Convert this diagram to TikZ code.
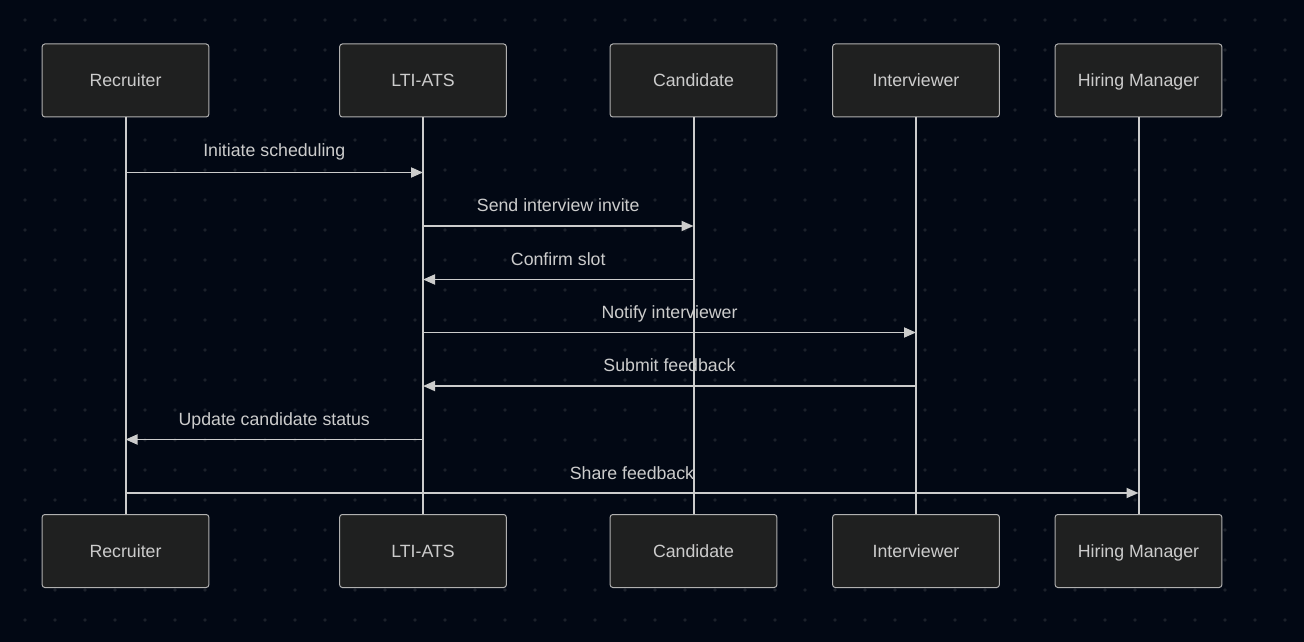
\documentclass[tikz,border=0pt]{standalone}
\usepackage{fontspec}
\setmainfont{Liberation Sans}
\usetikzlibrary{arrows.meta}
\definecolor{bgcol}{HTML}{020814}
\definecolor{dotcol}{HTML}{1C212B}
\definecolor{boxfill}{HTML}{1F2020}
\definecolor{boxline}{HTML}{B0B0B0}
\definecolor{linecol}{HTML}{CCCCCC}
\definecolor{txtcol}{HTML}{CCCCCC}
\begin{document}
\begin{tikzpicture}[x=0.75pt, y=-0.75pt]
        \tikzstyle{actor}=[rectangle, rounded corners=2pt, fill=boxfill, draw=boxline, line width=0.75pt, minimum width=125pt, minimum height=54.75pt, font=\fontsize{13.3}{15}\selectfont, text=txtcol, text height=9.5pt, text depth=0pt]
        \tikzstyle{life}=[linecol, line width=1.5pt]
        \tikzstyle{msg}=[linecol, line width=1.35pt, -{Triangle[length=9pt, width=7.5pt]}]
        \tikzstyle{lbl}=[font=\fontsize{13.3}{15}\selectfont, text=txtcol, inner sep=0pt, anchor=base]

        % background and dot grid
        \fill[bgcol] (0,0) rectangle (1304,642);
        \useasboundingbox (0,0) rectangle (1304,642);
        \foreach \i in {0,...,43}
          \foreach \j in {0,...,20}
            \fill[dotcol] (25+30*\i, 20+30*\j) circle (1.4pt);

        % participants
        \node[actor] (rec)  at (125.5,80.5)  {Recruiter};
        \node[actor] (ats)  at (423,80.5)    {LTI-ATS};
        \node[actor] (cand) at (693.5,80.5)  {Candidate};
        \node[actor] (intv) at (916,80.5)    {Interviewer};
        \node[actor] (hm)   at (1138.5,80.5) {Hiring Manager};

        \node[actor] (rec')  at (125.5,551)  {Recruiter};
        \node[actor] (ats')  at (423,551)    {LTI-ATS};
        \node[actor] (cand') at (693.5,551)  {Candidate};
        \node[actor] (intv') at (916,551)    {Interviewer};
        \node[actor] (hm')   at (1138.5,551) {Hiring Manager};

        % lifelines
        \draw[life] (rec) -- (rec');
        \draw[life] (ats) -- (ats');
        \draw[life] (cand) -- (cand');
        \draw[life] (intv) -- (intv');
        \draw[life] (hm) -- (hm');

        % messages
        \draw[msg] (rec |- 0,172.5) -- (ats |- 0,172.5) node[lbl, midway, yshift=11.7pt] {Initiate scheduling};
        \draw[msg] (ats |- 0,226) -- (cand |- 0,226) node[lbl, midway, yshift=10.7pt] {Send interview invite};
        \draw[msg] (cand |- 0,279.5) -- (ats |- 0,279.5) node[lbl, midway, yshift=10.7pt] {Confirm slot};
        \draw[msg] (ats |- 0,332.5) -- (intv |- 0,332.5) node[lbl, midway, yshift=10.7pt] {Notify interviewer};
        \draw[msg] (intv |- 0,386) -- (ats |- 0,386) node[lbl, midway, yshift=10.7pt] {Submit feedback};
        \draw[msg] (ats |- 0,439.5) -- (rec |- 0,439.5) node[lbl, midway, yshift=10.7pt] {Update candidate status};
        \draw[msg] (rec |- 0,493) -- (hm |- 0,493) node[lbl, midway, yshift=10.3pt] {Share feedback};
\end{tikzpicture}
\end{document}
